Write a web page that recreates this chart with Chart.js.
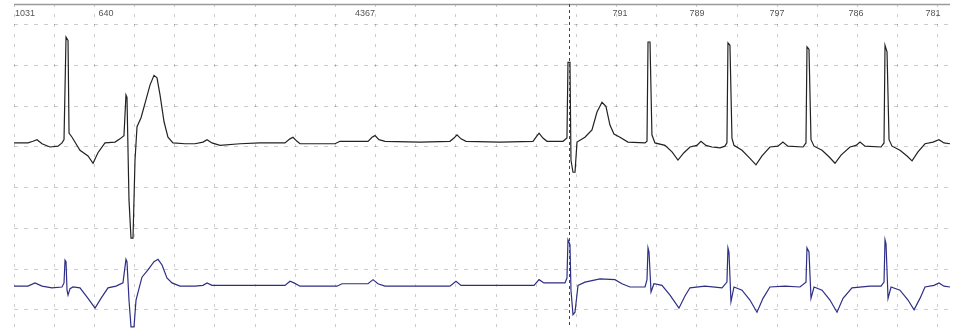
<!DOCTYPE html>
<html>
<head>
<meta charset="utf-8">
<script src="https://cdn.jsdelivr.net/npm/chart.js@4/dist/chart.umd.min.js"></script>
<style>
   html, body { margin: 0; padding: 0; background: #ffffff; }
   #wrap { position: relative; width: 961px; height: 328px; }
</style>
</head>
<body>
<div id="wrap"><canvas id="ecg" width="961" height="328"></canvas></div>
<script>
// time in ms, amplitude in mV
var leadATimes = [0, 139, 189, 229, 279, 358, 438, 478, 498, 518, 538, 548, 578, 657, 737, 787, 836, 906, 1006, 1055, 1095, 1115, 1125, 1145, 1165, 1185, 1205, 1225, 1265, 1314, 1354, 1394, 1424, 1454, 1494, 1533, 1583, 1703, 1802, 1882, 1922, 1971, 2051, 2250, 2449, 2698, 2748, 2778, 2818, 2848, 3196, 3246, 3525, 3565, 3595, 3634, 3694, 4043, 4341, 4381, 4411, 4451, 4501, 4839, 5168, 5198, 5228, 5267, 5307, 5466, 5506, 5516, 5536, 5546, 5566, 5586, 5606, 5685, 5755, 5805, 5855, 5894, 5934, 5974, 6034, 6113, 6283, 6303, 6313, 6333, 6352, 6382, 6482, 6552, 6611, 6671, 6731, 6800, 6840, 6890, 6950, 7030, 7079, 7099, 7109, 7129, 7149, 7169, 7249, 7328, 7388, 7448, 7527, 7607, 7656, 7706, 7856, 7886, 7896, 7916, 7936, 7966, 8046, 8115, 8175, 8235, 8324, 8384, 8424, 8474, 8633, 8663, 8673, 8693, 8713, 8743, 8822, 8892, 8942, 9001, 9071, 9151, 9210, 9260, 9320];
var leadAValues = [0.05, 0.05, 0.07, 0.09, 0.04, 0.00, 0.01, 0.05, 0.09, 1.35, 1.31, 0.17, 0.12, -0.04, -0.11, -0.20, -0.07, 0.05, 0.06, 0.10, 0.14, 0.64, 0.61, -0.65, -1.12, -1.12, -0.16, 0.25, 0.36, 0.58, 0.76, 0.88, 0.85, 0.64, 0.31, 0.12, 0.05, 0.04, 0.04, 0.06, 0.09, 0.05, 0.02, 0.04, 0.05, 0.05, 0.10, 0.12, 0.07, 0.04, 0.04, 0.07, 0.07, 0.12, 0.14, 0.09, 0.07, 0.06, 0.07, 0.11, 0.15, 0.10, 0.07, 0.06, 0.07, 0.12, 0.17, 0.11, 0.07, 0.07, 0.11, 1.04, 1.04, -0.16, -0.31, -0.31, 0.06, 0.12, 0.21, 0.43, 0.55, 0.50, 0.27, 0.16, 0.12, 0.06, 0.05, 0.07, 1.29, 1.29, 0.15, 0.05, 0.02, -0.06, -0.16, -0.07, 0.00, 0.02, 0.07, 0.02, 0.00, -0.01, 0.01, 0.05, 1.28, 1.25, 0.11, 0.02, -0.04, -0.14, -0.22, -0.11, 0.00, 0.01, 0.06, 0.01, 0.00, 0.05, 1.23, 1.20, 0.09, 0.01, -0.04, -0.12, -0.20, -0.10, 0.00, 0.02, 0.06, 0.01, 0.00, 0.05, 1.25, 1.17, 0.09, 0.01, -0.04, -0.11, -0.17, -0.06, 0.04, 0.06, 0.09, 0.05, 0.04];

var leadBTimes = [0, 139, 209, 279, 378, 478, 498, 508, 518, 528, 538, 558, 588, 657, 737, 807, 866, 936, 1016, 1085, 1115, 1125, 1145, 1165, 1195, 1215, 1274, 1334, 1394, 1434, 1474, 1523, 1573, 1653, 1802, 1882, 1922, 1971, 2250, 2698, 2748, 2788, 2848, 3216, 3266, 3525, 3575, 3624, 3694, 4341, 4401, 4451, 4839, 5178, 5228, 5277, 5486, 5506, 5516, 5536, 5546, 5566, 5586, 5616, 5685, 5835, 5984, 6054, 6133, 6283, 6303, 6313, 6323, 6343, 6372, 6452, 6532, 6621, 6681, 6731, 6880, 7050, 7099, 7109, 7119, 7139, 7169, 7249, 7328, 7398, 7458, 7527, 7677, 7826, 7886, 7896, 7916, 7936, 7966, 8046, 8125, 8195, 8255, 8344, 8523, 8633, 8663, 8673, 8683, 8703, 8733, 8822, 8902, 8962, 9021, 9071, 9161, 9210, 9260, 9320];
var leadBValues = [0.01, 0.01, 0.05, 0.01, -0.01, 0.00, 0.05, 0.33, 0.31, -0.04, -0.10, -0.02, 0.00, -0.01, -0.14, -0.26, -0.14, -0.01, 0.01, 0.05, 0.34, 0.31, -0.16, -0.49, -0.49, -0.16, 0.12, 0.21, 0.31, 0.34, 0.27, 0.11, 0.05, 0.01, 0.01, 0.02, 0.05, 0.02, 0.02, 0.02, 0.07, 0.05, 0.01, 0.01, 0.04, 0.04, 0.09, 0.04, 0.01, 0.01, 0.07, 0.02, 0.02, 0.02, 0.09, 0.05, 0.05, 0.11, 0.58, 0.52, -0.04, -0.34, -0.31, 0.02, 0.06, 0.10, 0.09, 0.04, 0.00, 0.00, 0.09, 0.48, 0.43, -0.06, 0.04, 0.02, -0.10, -0.26, -0.11, -0.01, 0.01, -0.01, 0.06, 0.48, 0.43, -0.18, 0.00, -0.04, -0.16, -0.31, -0.14, 0.00, 0.01, 0.00, 0.06, 0.48, 0.43, -0.14, 0.00, -0.04, -0.16, -0.31, -0.14, -0.01, 0.01, 0.01, 0.06, 0.58, 0.53, -0.14, 0.00, -0.04, -0.16, -0.28, -0.14, 0.00, 0.02, 0.05, 0.01, 0.00];

// R-R intervals (ms) shown along the top, and where they sit
var rrLabels = ["1031", "640", "4367", "791", "789", "797", "786", "781"];
var rrLabelTimes = [110, 916, 3495, 6034, 6800, 7597, 8384, 9151];

// event marker
var markerTimes = [5526];

// grid
var timeTicks = [0, 400, 800, 1200, 1600, 2000, 2400, 2800, 3200, 3600, 4000, 4400, 4800, 5200, 5600, 6000, 6400, 6800, 7200, 7600, 8000, 8400, 8800, 9200];
var mvTicks = [-2.0, -1.5, -1.0, -0.5, 0.0, 0.5, 1.0, 1.5];

(function () {
   var toPoints = function (xs, ys) {
      var pts = [];
      for (var i = 0; i < xs.length; i++) {
         pts.push({ x: xs[i], y: ys[i] });
      }
      return pts;
   };

   var yMin = -2.224, yMax = 1.757;
   var leadBOffset = 1.72; // lower channel shifted down on its own axis

   // top border, event marker and R-R numbers
   var overlay = {
      id: "overlay",
      afterDatasetsDraw: function (chart) {
         var ctx = chart.ctx;
         var area = chart.chartArea;
         var xs = chart.scales.x;
         ctx.save();
         ctx.strokeStyle = "#9a9a9a";
         ctx.lineWidth = 1.5;
         ctx.beginPath();
         ctx.moveTo(area.left, area.top + 0.5);
         ctx.lineTo(area.right, area.top + 0.5);
         ctx.stroke();

         ctx.strokeStyle = "#444444";
         ctx.lineWidth = 1;
         ctx.setLineDash([3, 3]);
         for (var i = 0; i < markerTimes.length; i++) {
            var mx = Math.round(xs.getPixelForValue(markerTimes[i])) + 0.5;
            ctx.beginPath();
            ctx.moveTo(mx, area.top);
            ctx.lineTo(mx, area.bottom);
            ctx.stroke();
         }
         ctx.setLineDash([]);

         ctx.fillStyle = "#555555";
         ctx.font = "9px 'Liberation Sans', Arial, sans-serif";
         ctx.textAlign = "center";
         ctx.textBaseline = "middle";
         for (var j = 0; j < rrLabels.length; j++) {
            ctx.fillText(rrLabels[j], xs.getPixelForValue(rrLabelTimes[j]), area.top + 10);
         }
         ctx.restore();
      }
   };

   var gridOpts = { color: "rgba(0,0,0,0.2)", lineWidth: 1, drawTicks: false };

   new Chart(document.getElementById("ecg").getContext("2d"), {
      type: "line",
      data: {
         datasets: [{
            data: toPoints(leadATimes, leadAValues),
            borderColor: "#222222",
            borderWidth: 1.2,
            yAxisID: "y"
         }, {
            data: toPoints(leadBTimes, leadBValues),
            borderColor: "#2e2e86",
            borderWidth: 1.2,
            yAxisID: "y2"
         }]
      },
      options: {
         responsive: false,
         animation: false,
         events: [],
         layout: { padding: { left: 14, right: 11, top: 4, bottom: 0 } },
         elements: { point: { radius: 0 }, line: { tension: 0 } },
         plugins: { legend: { display: false }, tooltip: { enabled: false } },
         scales: {
            x: {
               type: "linear",
               min: 0,
               max: 9320,
               ticks: { display: false },
               grid: gridOpts,
               border: { display: false, dash: [3, 7] },
               afterBuildTicks: function (axis) {
                  axis.ticks = timeTicks.map(function (v) { return { value: v }; });
               }
            },
            y: {
               min: yMin,
               max: yMax,
               ticks: { display: false },
               grid: gridOpts,
               border: { display: false, dash: [4, 6] },
               afterBuildTicks: function (axis) {
                  axis.ticks = mvTicks.map(function (v) { return { value: v }; });
               }
            },
            y2: {
               display: false,
               min: yMin + leadBOffset,
               max: yMax + leadBOffset
            }
         }
      },
      plugins: [overlay]
   });
})();
</script>
</body>
</html>
